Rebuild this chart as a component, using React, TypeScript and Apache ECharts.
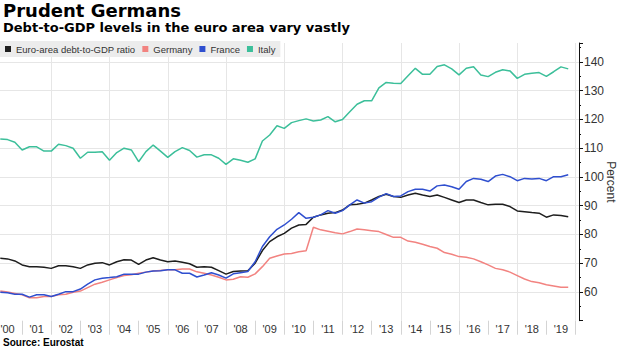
import React, { useEffect, useRef } from 'react';
import * as echarts from 'echarts';

// Quarterly debt-to-GDP ratios, 2000Q1 .. 2019Q3 (percent)
const startYear = 2000;

const euroArea = [
  71.7, 71.5, 70.8, 69.4, 68.8, 68.8, 68.6, 68.2, 69.1, 69.1,
  68.8, 68.2, 69.4, 70, 70.2, 69.4, 70.5, 71.2, 71.1, 69.6,
  71.1, 71.9, 71.1, 70.5, 70.8, 70.3, 69.8, 68.6, 68.8, 68.6,
  67.4, 66.2, 67.1, 67.3, 67.4, 70, 74.4, 77.5, 79.2, 80.4,
  82.2, 83.3, 83.5, 86, 86.8, 87.4, 87.6, 88.5, 90.3, 90.5,
  90.9, 92, 93.2, 94, 93.2, 92.9, 93.7, 94.3, 93.7, 93.2,
  93.7, 92.9, 92, 91.1, 92, 92, 91.1, 90.3, 90.5, 90.5,
  89.7, 88.2, 87.9, 87.6, 87.4, 86, 86.8, 86.6, 86.2,
];

const germany = [
  60.3, 60, 59.5, 59, 58, 58, 58.4, 58.4, 59, 59.2,
  59.9, 60.3, 61.5, 62.7, 63.4, 64.2, 65, 65.7, 66, 66.5,
  66.9, 67.3, 67.5, 67.7, 67.7, 68, 68, 67, 66.5, 65.9,
  65.1, 64.2, 64.4, 65.3, 65.1, 66.3, 68.8, 71.7, 72.5, 73.2,
  73.4, 74, 74.3, 82.5, 81.6, 81.1, 80.6, 80.2, 81, 81.9,
  81.6, 81.3, 81, 80, 79, 79, 77.7, 77.3, 76.6, 75.8,
  75.2, 73.7, 73.1, 72.3, 72.1, 71.5, 70.5, 69.4, 68.2, 67.7,
  66.9, 65.7, 64.5, 63.6, 63.2, 62.5, 62.1, 61.6, 61.6,
];

const france = [
  59.9, 59.7, 59.2, 59.2, 58.2, 59, 59, 58.4, 59.2, 60.1,
  60.1, 61, 62.7, 64.2, 64.8, 65, 65.3, 66.2, 66.2, 66.2,
  66.9, 67.3, 67.4, 67.7, 67.7, 66.5, 66.5, 65.2, 65.9, 66.7,
  65.9, 64.8, 66.3, 66.7, 67.1, 70.5, 75.8, 79.2, 81.8, 83.3,
  85.3, 87.6, 85.6, 86, 86.8, 88.3, 87.4, 88.3, 90.3, 92,
  90.9, 91.4, 93, 94.2, 93.2, 93.4, 94.9, 95.7, 95.7, 95.1,
  96.9, 97.2, 96.6, 95.7, 98.4, 99.5, 99.2, 98.4, 100.3, 100.9,
  100.1, 98.7, 99.5, 99.3, 99.5, 98.7, 100.1, 100.1, 100.8,
];

const italy = [
  113.2, 113, 112.1, 109.4, 110.5, 110.5, 109, 109, 111.4, 110.9,
  110, 106.5, 108.6, 108.6, 108.8, 105.8, 108.5, 110, 109.4, 105.3,
  108.8, 111.1, 109, 106.8, 108.8, 110.2, 109.2, 106.9, 107.7, 107.7,
  106.5, 104.4, 106.3, 105.8, 105.1, 106.3, 112.5, 114.6, 117.8, 116.9,
  118.9, 119.6, 120.2, 119.5, 119.8, 121, 119.2, 120, 122.7, 125.3,
  126.5, 126.5, 131, 132.9, 132.6, 132.5, 135.2, 137.8, 135.7, 135.7,
  138.4, 139, 137.6, 135.5, 137.8, 138.3, 135.5, 134.9, 136.4, 137.3,
  136.9, 134.3, 135.7, 136.1, 136.3, 135, 136.6, 138.3, 137.6,
];

const seriesNames = ['Euro-area debt-to-GDP ratio', 'Germany', 'France', 'Italy'];
const seriesColors = ['#1e1e1e', '#f28380', '#2f4fcf', '#3cbf9a'];

const yTickLabels = [60, 70, 80, 90, 100, 110, 120, 130, 140];
const yearBoundaries = [
  2000, 2001, 2002, 2003, 2004, 2005, 2006, 2007, 2008, 2009, 2010,
  2011, 2012, 2013, 2014, 2015, 2016, 2017, 2018, 2019, 2020,
];
const yearLabels = [
  "'00", "'01", "'02", "'03", "'04", "'05", "'06", "'07", "'08", "'09",
  "'10", "'11", "'12", "'13", "'14", "'15", "'16", "'17", "'18", "'19",
];

const toPoints = (vals: number[]) =>
  vals.map((v, i) => [startYear + (i + 1) / 4, v]);

export default function App() {
  const ref = useRef<HTMLDivElement>(null);

  useEffect(() => {
    if (!ref.current) return;
    const chart = echarts.init(ref.current, null, { renderer: 'svg' });
    const labelCenters = yearLabels.map((_, i) => startYear + i + 0.5);
    const allSeries = [euroArea, germany, france, italy];

    chart.setOption({
      animation: false,
      textStyle: { fontFamily: 'Liberation Sans' },
      graphic: [
        {
          type: 'text', left: 3, top: 1, z: 10,
          style: { text: 'Prudent Germans', font: 'bold 18px "DejaVu Sans"', fill: '#000' },
        },
        {
          type: 'text', left: 3, top: 21, z: 10,
          style: { text: 'Debt-to-GDP levels in the euro area vary vastly', font: 'bold 13px "DejaVu Sans"', fill: '#000' },
        },
        {
          type: 'text', left: 3, top: 337, z: 10,
          style: { text: 'Source: Eurostat', font: 'bold 10px "Liberation Sans"', fill: '#000' },
        },
      ],
      legend: {
        left: 0, top: 41,
        backgroundColor: '#ececec',
        padding: [3, 5, 3, 5],
        itemWidth: 6, itemHeight: 6, itemGap: 7,
        icon: 'rect',
        data: seriesNames,
        textStyle: { fontSize: 9.5, color: '#333', fontFamily: 'Liberation Sans' },
      },
      grid: { left: -7, right: 41, top: 43, bottom: 27.3, outerBoundsMode: 'none', containLabel: false },
      xAxis: [
        {
          type: 'value', min: 2000, max: 2020.12, interval: 2,
          axisLine: { show: false }, axisTick: { show: false }, axisLabel: { show: false },
          splitLine: { show: true, showMinLine: false, lineStyle: { color: '#e6e6e6', width: 1 } },
        },
        {
          type: 'value', min: 2000, max: 2020.12, position: 'bottom',
          axisLine: { show: false },
          axisTick: { show: true, length: 14, customValues: yearBoundaries, lineStyle: { color: '#d4d4d4' } },
          axisLabel: {
            customValues: labelCenters,
            formatter: (v: number) => yearLabels[Math.floor(v) - startYear] ?? '',
            fontSize: 11, color: '#333', margin: 3,
          },
          splitLine: { show: false },
        },
      ],
      yAxis: {
        type: 'value', position: 'right', min: 50, max: 146.6, interval: 10,
        axisLine: { show: true, lineStyle: { color: '#111', width: 1 } },
        axisTick: { show: true, length: 4, lineStyle: { color: '#111' } },
        minorTick: { show: true, splitNumber: 2, length: 2, lineStyle: { color: '#111' } },
        axisLabel: {
          formatter: (v: number) => (yTickLabels.includes(v) ? String(v) : ''),
          fontSize: 12, color: '#333', margin: 5,
        },
        splitLine: { show: true, showMinLine: false, showMaxLine: false, lineStyle: { color: '#e6e6e6', width: 1 } },
        name: 'Percent', nameLocation: 'middle', nameRotate: -90, nameGap: 26,
        nameMoveOverlap: false,
        nameTextStyle: { fontSize: 12, color: '#333' },
      },
      series: allSeries.map((vals, k) => ({
        name: seriesNames[k],
        type: 'line',
        xAxisIndex: 0,
        showSymbol: false,
        symbol: 'none',
        color: seriesColors[k],
        lineStyle: { width: 1.5, color: seriesColors[k] },
        data: toPoints(vals),
      })),
    });

    return () => chart.dispose();
  }, []);

  return (
    <div
      ref={ref}
      style={{ position: 'fixed', left: 0, top: 0, width: 620, height: 348, background: '#fff' }}
    />
  );
}
